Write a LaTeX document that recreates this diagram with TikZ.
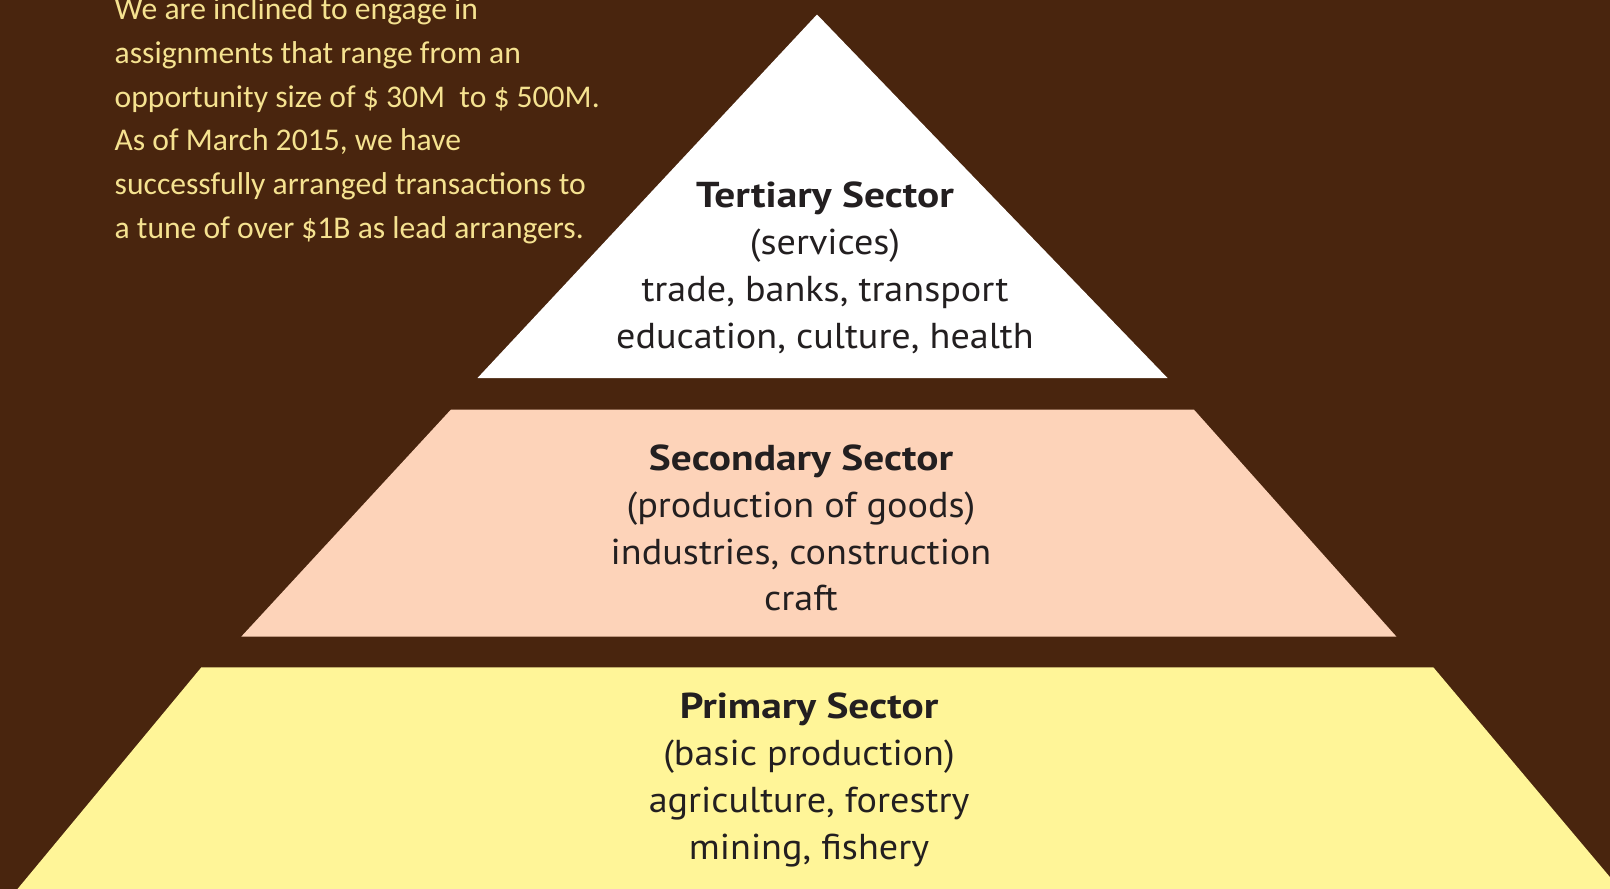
\documentclass[tikz,border=0pt]{standalone}
\usepackage{fontspec}
\setmainfont{PT Sans}
\newfontfamily\calfont{Carlito}
\newfontfamily\sectorregular[FakeStretch=1.06]{PT Sans}
\newfontfamily\sectorbold[FakeStretch=1.15]{PT Sans Bold}
\definecolor{bgbrown}{HTML}{49250E}
\definecolor{peach}{HTML}{FDD3B9}
\definecolor{paleyellow}{HTML}{FFF598}
\definecolor{inkdark}{HTML}{231F20}
\definecolor{introyellow}{HTML}{F5E290}
\tikzset{
  intro/.style={anchor=base west, inner sep=0pt, text=introyellow, font=\calfont\fontsize{31.6}{38}\selectfont},
  sectortitle/.style={anchor=base, inner sep=0pt, text=inkdark, font=\sectorbold\fontsize{36}{44}\selectfont},
  sectorline/.style={anchor=base, inner sep=0pt, text=inkdark, font=\sectorregular\fontsize{36}{44}\selectfont},
  layer/.style={draw=none}
}
\begin{document}
\begin{tikzpicture}[x=1pt,y=-1pt]
\useasboundingbox (0,0) rectangle (1610,889);
\fill[bgbrown] (0,0) rectangle (1610,889);
% layers
\fill[white, layer] (817,14.5) -- (1167.5,378) -- (477.5,378) -- cycle;
\fill[peach, layer] (450.8,409.7) -- (1194,409.7) -- (1396.4,636.6) -- (241.3,636.6) -- cycle;
\fill[paleyellow, layer] (201.3,667.4) -- (1433.4,667.4) -- (1620,889) -- (17.5,889) -- cycle;
% intro text
\node[intro] (i1) at (114.5,19) {We are inclined to engage in};
\node[intro] (i2) at (114.5,63) {assignments that range from an};
\node[intro] (i3) at (114.5,107) {opportunity size of \$ 30M\ \ to \$ 500M.};
\node[intro] (i4) at (114.5,150.5) {As of March 2015, we have};
\node[intro] (i5) at (114.5,194) {successfully arranged transactions to};
\node[intro] (i6) at (114.5,238) {a tune of over \$1B as lead arrangers.};
% tertiary
\node[sectortitle] (t1) at (825,207) {Tertiary Sector};
\node[sectorline] (t2) at (825,254) {(services)};
\node[sectorline] (t3) at (825,301) {trade, banks, transport};
\node[sectorline] (t4) at (825,348) {education, culture, health};
% secondary
\node[sectortitle] (s1) at (801,470) {Secondary Sector};
\node[sectorline] (s2) at (801,517) {(production of goods)};
\node[sectorline] (s3) at (801,564) {industries, construction};
\node[sectorline] (s4) at (801,610) {craft};
% primary
\node[sectortitle] (p1) at (809,718) {Primary Sector};
\node[sectorline] (p2) at (809,765) {(basic production)};
\node[sectorline] (p3) at (809,812) {agriculture, forestry};
\node[sectorline] (p4) at (809,859) {mining, fishery};
\end{tikzpicture}
\end{document}
